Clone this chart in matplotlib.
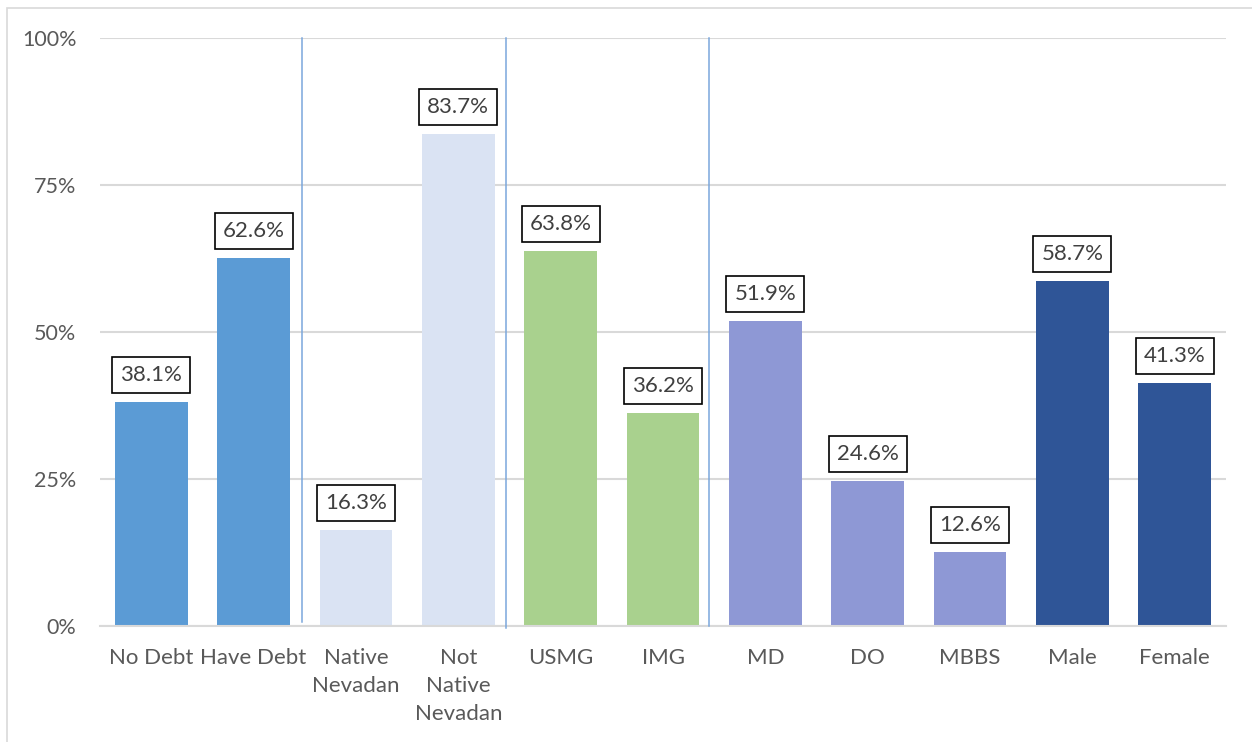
import matplotlib.pyplot as plt
from matplotlib.patches import Rectangle
from matplotlib.ticker import FuncFormatter

categories = ["No Debt", "Have Debt", "Native\nNevadan", "Not\nNative\nNevadan",
              "USMG", "IMG", "MD", "DO", "MBBS", "Male", "Female"]
values = [38.1, 62.6, 16.3, 83.7, 63.8, 36.2, 51.9, 24.6, 12.6, 58.7, 41.3]
colors = ["#5B9BD5", "#5B9BD5", "#DAE3F3", "#DAE3F3", "#A9D18E", "#A9D18E",
          "#8E98D5", "#8E98D5", "#8E98D5", "#2F5597", "#2F5597"]
# group separators: x position, bottom end (fraction of axis height)
separators = [(1.476, 0.007), (3.47, -0.004), (5.445, 0.0)]

text_color = "#595959"
grid_color = "#D9D9D9"

plt.rcParams["font.family"] = ["Lato", "DejaVu Sans"]

fig = plt.figure(figsize=(12.52, 7.42), dpi=100)
ax = fig.add_axes([100 / 1252, 116 / 742, 1126 / 1252, 588 / 742])

# outer chart border
fig.patches.append(Rectangle((7 / 1252, -0.1), 1.2, (742 - 8) / 742 + 0.1,
                             transform=fig.transFigure, fill=False,
                             edgecolor=grid_color, linewidth=1.2))

x = range(len(categories))
ax.bar(x, values, width=0.71, color=colors, zorder=2)

for xi, v in zip(x, values):
    ax.annotate(f"{v:.1f}%", (xi, v), xytext=(0, 19.5), textcoords="offset points",
                ha="center", va="center", fontsize=16, color="#404040",
                bbox=dict(boxstyle="square,pad=0.36", fc="white", ec="black", lw=1.2))

for sx, ymin in separators:
    ax.axvline(sx, ymin=ymin, ymax=1, color="#7BA7DC", lw=1.1, clip_on=False, zorder=3)

ax.set_xlim(-0.5, len(categories) - 0.5)
ax.set_ylim(0, 100)
ax.set_yticks([0, 25, 50, 75, 100])
ax.yaxis.set_major_formatter(FuncFormatter(lambda v, p: f"{v:.0f}%"))
ax.yaxis.grid(True, color=grid_color, lw=1.5, zorder=0)
ax.set_axisbelow(True)

ax.set_xticks(list(x))
ax.set_xticklabels(categories, linespacing=1.5)
ax.tick_params(axis="both", length=0, labelsize=16, labelcolor=text_color)
ax.tick_params(axis="y", pad=17, labelsize=15.5)
ax.tick_params(axis="x", pad=16)
for lab in ax.get_xticklabels():
    lab.set_verticalalignment("top")

for side in ["top", "right", "left"]:
    ax.spines[side].set_visible(False)
ax.spines["bottom"].set_color(grid_color)
ax.spines["bottom"].set_linewidth(1.5)

fig.savefig("out.png", dpi=100)
